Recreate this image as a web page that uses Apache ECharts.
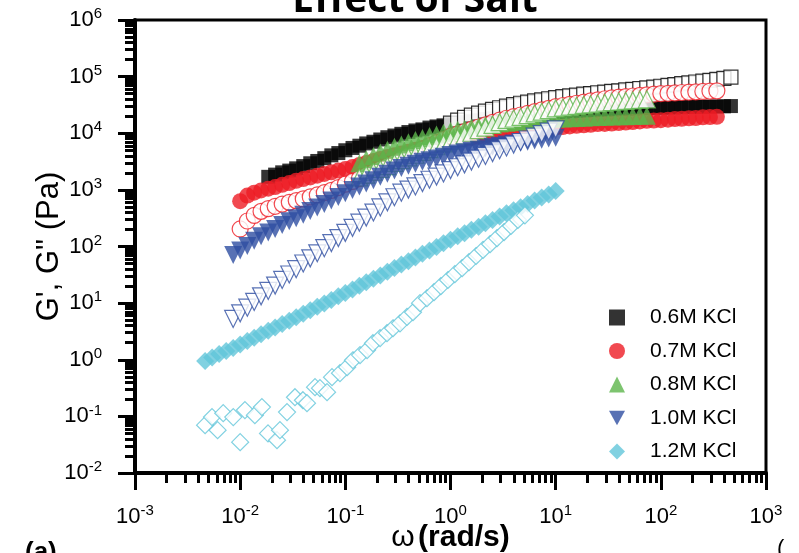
<!DOCTYPE html>
<html lang="en">

<head>
    <meta charset="UTF-8">
    <title>Effect of Salt</title>
    <script src="https://cdn.jsdelivr.net/npm/echarts@6/dist/echarts.min.js"></script>
    <style>
        html, body { margin: 0; padding: 0; background: #fff; }
    </style>
</head>

<body>
    <div id="main" style="width: 799px;height:553px;"></div>
    <script type="text/javascript">

        // tick labels (exponents of 10)
        var xPowers = ['-3', '-2', '-1', '0', '1', '2', '3']
        var yPowers = ['-2', '-1', '0', '1', '2', '3', '4', '5', '6']

        var salts = ['0.6M KCl', '0.7M KCl', '0.8M KCl', '1.0M KCl', '1.2M KCl']

        // frequency sweep points, rad/s
        var freq = [
            0.00464, 0.00541, 0.00631, 0.00736, 0.00858, 0.0100, 0.0117, 0.0136, 0.0158, 0.0185,
            0.0215, 0.0251, 0.0293, 0.0341, 0.0398, 0.0464, 0.0541, 0.0631, 0.0736, 0.0858,
            0.100, 0.117, 0.136, 0.158, 0.185, 0.215, 0.251, 0.293, 0.341, 0.398,
            0.464, 0.541, 0.631, 0.736, 0.858, 1.00, 1.17, 1.36, 1.58, 1.85,
            2.15, 2.51, 2.93, 3.41, 3.98, 4.64, 5.41, 6.31, 7.36, 8.58,
            10.0, 11.7, 13.6, 15.8, 18.5, 21.5, 25.1, 29.3, 34.1, 39.8,
            46.4, 54.1, 63.1, 73.6, 85.8, 100, 117, 136, 158, 185,
            215, 251, 293, 341, 398, 464
        ]

        // 0.6M KCl: G' starts at freq[9], G'' at freq[35]
        var g1_06 = [1700, 1860, 2040, 2190, 2400, 2630, 2950, 3240, 3630, 4070, 4470, 5010, 5500, 6030, 6610, 7080,
            7760, 8510, 9120, 9770, 10500, 11200, 11700, 12600, 13200, 13800, 14500, 15100, 15800, 16600, 17000,
            17800, 18400, 19100, 19700, 20400, 20900, 21400, 21900, 22400, 22900, 23400, 23800, 24200, 24600, 25000,
            25300, 25700, 26000, 26300, 26600, 26900, 27200, 27500, 27900, 28100, 28200, 28400, 28600, 28800, 29000,
            29200, 29400, 29500, 29700, 29900, 30200]
        var g2_06 = [15100, 17000, 19100, 20900, 22600,
            24500, 26300, 28200, 30200, 32000, 33900, 35500, 37200, 38900, 40700, 42700, 44200, 45700, 47300, 49000,
            50100, 51900, 53100, 55000, 56200, 58200, 59600, 61700, 63100, 65300, 67600, 70000, 72400, 75000, 77600,
            80400, 83200, 86100, 89100, 93300, 97700]

        // 0.7M KCl, starts at freq[5]
        var g1_07 = [631, 794, 891, 977, 1050, 1120, 1230, 1320, 1450, 1550, 1660, 1780, 1910, 2040, 2190, 2340,
            2540, 2750, 2990, 3240, 3510, 3800, 4070, 4370, 4730, 5130, 5500, 5890, 6310, 6760, 7240, 7590, 7940,
            8320, 8710, 9020, 9330, 9660, 10000, 10500, 10800, 11200, 11600, 12000, 12300, 12600, 12900, 13200,
            13500, 13800, 14100, 14500, 14600, 14800, 15100, 15500, 15800, 16200, 16600, 16800, 17000, 17400, 17800,
            18000, 18400, 18600, 19100, 19300, 19500]
        var g2_07 = [204, 282, 355, 417, 468, 513, 562, 603, 646, 692, 750, 813, 891, 977, 1100, 1260, 1410,
            1580, 1820, 2040, 2340, 2630, 3020, 3550, 4070, 4620, 5250, 6030, 6840, 7760, 8910, 9770, 10700, 11700,
            12900, 14100, 15500, 17000, 18400, 19700, 21000, 22500, 24100, 25800, 27500, 29500, 30900, 32400, 33900,
            35500, 37200, 38900, 40700, 42300, 43300, 44400, 45500, 46600, 47800, 49000, 50100, 50800, 51600, 52400,
            53100, 53800, 54700, 55500, 56200]

        // 0.8M KCl, starts at freq[22]
        var g1_08 = [2950, 3470, 3980, 4570, 5130, 5750, 6310, 6920, 7590, 8220, 8910, 9550, 10200, 11000, 11500,
            12000, 12600, 13200, 13800, 14300, 14800, 15300, 15700, 16000, 16400, 16800, 17200, 17600, 18000, 18200,
            18400, 18600, 18800, 19100, 19300, 19500, 19700, 20000, 20000, 20200, 20300, 20400]
        var g2_08 = [1660, 1860, 2090, 2340, 2630, 2990, 3350, 3760, 4170, 4680, 5250, 5890, 6610, 7410, 8220, 9120,
            10200, 11400, 12600, 14100, 15700, 17200, 18200, 19500, 20900, 22400, 24000, 25700, 27500, 28500, 29500,
            30500, 31600, 32400, 33500, 34700, 35500, 36300, 37200, 38000, 38900, 39800]

        // 1.0M KCl, starts at freq[4]
        var g1_10 = [70.8, 85.1, 102, 126, 151, 176, 204, 240, 279, 316, 363, 422, 490, 562, 646, 750, 871, 1000,
            1150, 1300, 1480, 1700, 1930, 2190, 2430, 2660, 2880, 3130, 3350, 3590, 3850, 4120, 4370, 4620, 4900,
            5130, 5430, 5750, 6030, 6310, 6610, 6840, 7080, 7410, 7670, 8040, 8320]
        var g2_10 = [5.25, 6.61, 8.32, 10.5, 13.2, 16.4, 20.4, 25.7, 32.0, 39.8, 50.1, 61.7, 75.9, 93.3, 115, 141,
            174, 214, 263, 324, 398, 490, 603, 741, 891, 1010, 1150, 1320, 1510, 1720, 1950, 2240, 2510, 2820, 3160,
            3550, 3980, 4470, 5010, 5620, 6310, 7000, 7760, 8710, 9660, 10700, 11700]

        // 1.2M KCl, G' starts at freq[0]; G'' has its own frequencies
        var g1_12 = [0.955, 1.10, 1.26, 1.43, 1.62, 1.86, 2.14, 2.45, 2.82, 3.24, 3.72, 4.27, 4.90, 5.62, 6.46, 7.50,
            8.61, 9.89, 11.4, 13.2, 15.1, 17.4, 20.2, 23.4, 26.9, 30.9, 35.9, 41.7, 47.9, 55.0, 63.8, 74.1, 85.1,
            97.7, 114, 132, 151, 172, 197, 224, 257, 295, 339, 385, 437, 495, 562, 646, 733, 832, 955]
        var w2_12 = [0.00464, 0.0054, 0.0061, 0.0069, 0.0086, 0.0100, 0.0111, 0.0138, 0.0161, 0.0184, 0.0224, 0.0239,
            0.0279, 0.0332, 0.0395, 0.0432, 0.0515, 0.0574, 0.0670, 0.0747, 0.0889, 0.104, 0.118, 0.138, 0.161,
            0.183, 0.214, 0.249, 0.284, 0.331, 0.386, 0.440, 0.513, 0.597, 0.697, 0.81, 0.946, 1.10, 1.29, 1.50,
            1.75, 2.04, 2.38, 2.77, 3.23, 3.76, 4.38, 5.1]
        var g2_12 = [0.070, 0.097, 0.057, 0.114, 0.097, 0.035, 0.129, 0.105, 0.146, 0.050, 0.038, 0.057, 0.119,
            0.218, 0.193, 0.171, 0.328, 0.315, 0.268, 0.493, 0.580, 0.74, 0.98, 1.21, 1.48, 1.96, 2.41, 2.95, 3.6,
            4.4, 5.7, 6.9, 10, 12.2, 15.6, 20, 25.6, 32.5, 41.5, 53, 68, 87, 110, 141, 180, 230, 295, 355]

        var colors = ['#000000', '#ed1c24', '#5cb54b', '#2e4ea1', '#62c6d9']
        var FONT = '"Liberation Sans", Arial, sans-serif'

        function onGrid(start, vals) {
            return vals.map(function (v, k) { return [freq[start + k], v] })
        }

        // minor ticks at 2..9 of each decade, in log10 units
        function minorTicks(lo, hi) {
            var out = []
            for (var n = lo; n < hi; n++) {
                for (var k = 2; k <= 9; k++) out.push(n + Math.log10(k))
            }
            return out
        }

        function filled(i, symbol, size, data, rotate) {
            return {
                name: salts[i], type: 'scatter', symbol: symbol, symbolSize: size,
                symbolRotate: rotate || 0, data: data,
                itemStyle: { color: colors[i] }, emphasis: { disabled: true }
            }
        }
        function open(i, symbol, size, data, rotate) {
            return {
                name: salts[i], type: 'scatter', symbol: symbol, symbolSize: size,
                symbolRotate: rotate || 0, data: data,
                itemStyle: { color: '#ffffff', borderColor: colors[i], borderWidth: 1.2 },
                emphasis: { disabled: true }
            }
        }

        var supRich = {
            b: { fontSize: 22, fontFamily: FONT, color: '#000', lineHeight: 27 },
            s: { fontSize: 15, fontFamily: FONT, color: '#000', lineHeight: 15, verticalAlign: 'top' }
        }

        var myChart = echarts.init(document.getElementById('main'))

        var option = {
            animation: false,
            title: {
                text: 'Effect of Salt',
                left: 410, top: -24, textAlign: 'center',
                textStyle: { fontSize: 39, fontWeight: 'bold', fontFamily: '"Open Sans", sans-serif', color: '#000' }
            },
            legend: {
                data: [
                    { name: salts[0], icon: 'rect' },
                    { name: salts[1], icon: 'circle' },
                    { name: salts[2], icon: 'triangle' },
                    { name: salts[3], icon: 'path://M0,0 L10,0 L5,9 Z' },
                    { name: salts[4], icon: 'diamond' }
                ],
                orient: 'vertical', left: 604, top: 302,
                itemWidth: 16, itemHeight: 16, itemGap: 12.5,
                textStyle: { fontSize: 21, lineHeight: 16, padding: [0, 0, 0, 20], fontFamily: FONT, color: '#000' }
            },
            grid: {
                left: 135, top: 20, width: 631, height: 453,
                outerBoundsMode: 'none',
                show: true, borderColor: '#000', borderWidth: 3
            },
            xAxis: [{
                type: 'log', logBase: 10, min: 0.001, max: 1000, position: 'bottom',
                name: '{w|ω} {r|(rad/s)}', nameLocation: 'middle', nameGap: 50, nameMoveOverlap: false,
                nameTextStyle: {
                    rich: {
                        w: { fontSize: 30, fontFamily: FONT, color: '#000' },
                        r: { fontSize: 30, fontFamily: FONT, fontWeight: 'bold', color: '#000' }
                    }
                },
                axisLine: { onZero: false, lineStyle: { color: '#000', width: 4 } },
                axisTick: { length: 17, lineStyle: { color: '#000', width: 3 } },
                axisLabel: {
                    margin: 30,
                    formatter: function (v) { return '{b|10}{s|' + xPowers[Math.round(Math.log10(v)) + 3] + '}' },
                    rich: supRich
                },
                splitLine: { show: false }
            }, {
                type: 'value', min: -3, max: 3, position: 'bottom',
                axisLine: { show: false, onZero: false },
                axisTick: { customValues: minorTicks(-3, 3), length: 10, lineStyle: { color: '#000', width: 3 } },
                axisLabel: { show: false },
                splitLine: { show: false }
            }],
            yAxis: [{
                type: 'log', logBase: 10, min: 0.01, max: 1000000, position: 'left',
                name: 'G\', G" (Pa)', nameLocation: 'middle', nameGap: 70, nameMoveOverlap: false,
                nameTextStyle: { fontSize: 31, fontFamily: FONT, color: '#000' },
                axisLine: { onZero: false, lineStyle: { color: '#000', width: 4 } },
                axisTick: { length: 17, lineStyle: { color: '#000', width: 3 } },
                axisLabel: {
                    margin: 33,
                    formatter: function (v) { return '{b|10}{s|' + yPowers[Math.round(Math.log10(v)) + 2] + '}' },
                    rich: supRich
                },
                splitLine: { show: false }
            }, {
                type: 'value', min: -2, max: 6, position: 'left',
                axisLine: { show: false, onZero: false },
                axisTick: { customValues: minorTicks(-2, 6), length: 10, lineStyle: { color: '#000', width: 3 } },
                axisLabel: { show: false },
                splitLine: { show: false }
            }],
            graphic: [
                { type: 'text', left: 25, top: 540, style: { text: '(a)', fontSize: 26, fontWeight: 'bold', fontFamily: FONT, fill: '#000' } },
                { type: 'text', left: 777, top: 538, style: { text: '(', fontSize: 22, fontFamily: FONT, fill: '#000' } }
            ],
            series: [
                filled(0, 'rect', 14, onGrid(9, g1_06)),
                open(0, 'rect', 14, onGrid(35, g2_06)),
                filled(1, 'circle', 16, onGrid(5, g1_07)),
                open(1, 'circle', 16, onGrid(5, g2_07)),
                filled(2, 'triangle', 18, onGrid(22, g1_08)),
                open(2, 'triangle', 17, onGrid(22, g2_08)),
                filled(3, 'triangle', 18, onGrid(4, g1_10), 180),
                open(3, 'triangle', 17, onGrid(4, g2_10), 180),
                filled(4, 'diamond', 18, onGrid(0, g1_12)),
                open(4, 'diamond', 17, w2_12.map(function (w, k) { return [w, g2_12[k]] }))
            ]
        }

        myChart.setOption(option)
    </script>
</body>

</html>
